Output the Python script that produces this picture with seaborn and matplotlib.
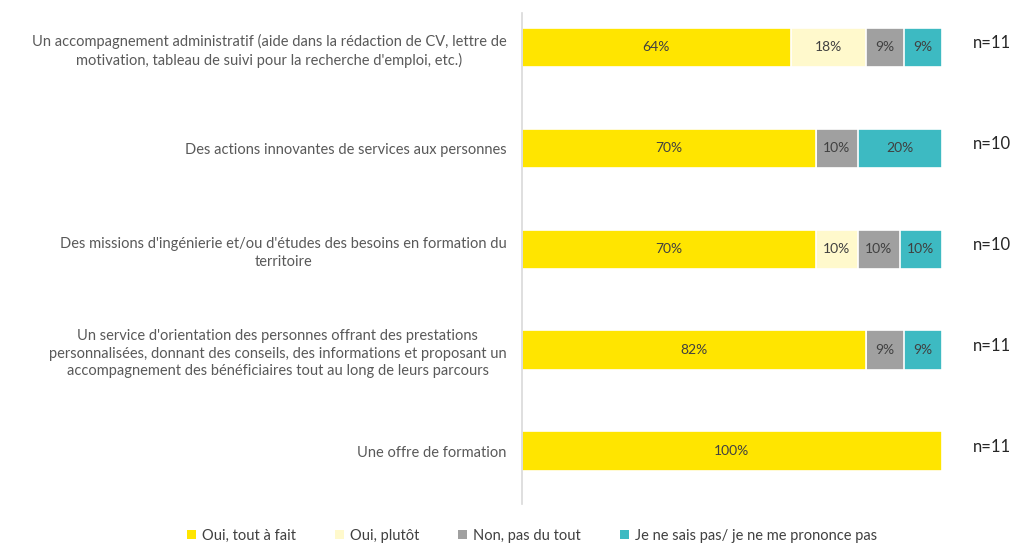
import pandas as pd
import matplotlib.pyplot as plt
import seaborn as sns
import numpy as np
from matplotlib.patches import Patch

categories = [
    "Un accompagnement administratif (aide dans la rédaction de CV, lettre de\nmotivation, tableau de suivi pour la recherche d'emploi, etc.)",
    "Des actions innovantes de services aux personnes",
    "Des missions d'ingénierie et/ou d'études des besoins en formation du\nterritoire",
    "Un service d'orientation des personnes offrant des prestations\npersonnalisées, donnant des conseils, des informations et proposant un\naccompagnement des bénéficiaires tout au long de leurs parcours",
    "Une offre de formation",
]
series = ["Oui, tout à fait", "Oui, plutôt", "Non, pas du tout", "Je ne sais pas/ je ne me prononce pas"]
oui_tout = [64, 70, 70, 82, 100]
oui_plutot = [18, 0, 10, 0, 0]
non_pas = [9, 10, 10, 9, 0]
ne_sais_pas = [9, 20, 10, 9, 0]
n_labels = ["n=11", "n=10", "n=10", "n=11", "n=11"]
colors = ["#FFE500", "#FFF9CC", "#A0A0A0", "#3DBAC2"]

values = [oui_tout, oui_plutot, non_pas, ne_sais_pas]
df = pd.DataFrame({s: v for s, v in zip(series, values)}, index=categories)
cum = df.cumsum(axis=1)

plt.rcParams['font.family'] = ['Lato', 'DejaVu Sans']
fig = plt.figure(figsize=(10.17, 5.45), dpi=100)
ax = fig.add_axes([0.513, 0.076, 0.413, 0.90])

# overlay cumulative totals, longest first
for s, c in reversed(list(zip(series, colors))):
    sns.barplot(x=cum[s].values, y=categories, orient='h', color=c, saturation=1,
                width=0.39, edgecolor='white', linewidth=1.2, ax=ax)

# segment labels
for i, cat in enumerate(categories):
    for s in series:
        v = df.loc[cat, s]
        if v > 0:
            mid = cum.loc[cat, s] - v / 2
            ax.text(mid, i, f"{v}%", ha='center', va='center',
                    fontsize=10, color='#404040')
    ax.text(112, i - 0.04, n_labels[i], ha='center', va='center',
            fontsize=12, color='#262626')

ax.set_xlim(0, 100)
ax.set_ylim(4.52, -0.34)
ax.set_xlabel("")
ax.set_ylabel("")
ax.set_xticks([])
ax.tick_params(axis='y', length=0, pad=11, labelsize=10.5, labelcolor='#595959')
for lab in ax.get_yticklabels():
    lab.set_multialignment('center')
    lab.set_linespacing(1.35)

sns.despine(ax=ax, top=True, right=True, bottom=True, left=False)
ax.spines['left'].set_color('#D9D9D9')
ax.spines['left'].set_linewidth(1.2)

handles = [Patch(facecolor=c, edgecolor='none') for c in colors]
fig.legend(handles, series, loc='center', bbox_to_anchor=(0.523, 0.017), ncol=4,
           frameon=False, fontsize=10.5, handlelength=0.6, handleheight=0.6,
           handletextpad=0.4, columnspacing=2.7, labelcolor='#404040')

fig.savefig("out.png", dpi=100)
